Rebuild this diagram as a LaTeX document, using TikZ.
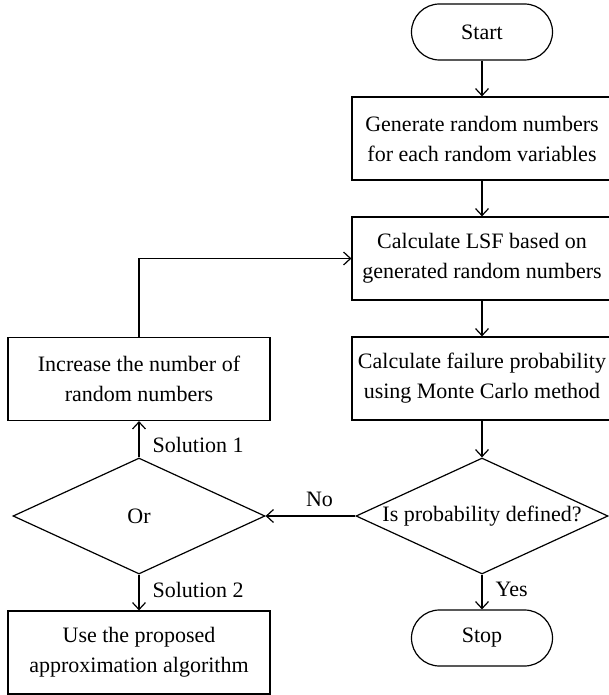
\documentclass[tikz,border=0pt]{standalone}
\usepackage{fontspec}
\setmainfont{Liberation Serif}
\usetikzlibrary{arrows.meta,shapes.geometric}
\begin{document}
\begin{tikzpicture}[x=0.5pt,y=-0.5pt,
  every node/.style={font=\fontsize{11}{15}\selectfont},
  box/.style={draw, line width=0.6pt, minimum width=130pt, minimum height=41.5pt, align=center, inner sep=0pt},
  lbox/.style={box, minimum width=131pt},
  pill/.style={draw, line width=0.6pt, rounded corners=14pt, minimum width=70.5pt, minimum height=28pt, inner sep=0pt},
  dia/.style={draw, line width=0.6pt, shape=diamond, aspect=2.17, minimum width=126pt, minimum height=58pt, inner sep=0pt},
  arr/.style={line width=0.6pt, -{Straight Barb[length=3.5pt,width=6.5pt]}},
  lab/.style={right, inner sep=0pt, xshift=6.5pt}
]
\useasboundingbox (0,0) rectangle (609,695);
\node[pill] (start) at (482,32) {Start};
\node[box] (b1) at (482,138.5) {Generate random numbers\\for each random variables};
\node[box] (b2) at (482,258.5) {Calculate LSF based on\\generated random numbers};
\node[box] (b3) at (482,378.5) {Calculate failure probability\\using Monte Carlo method};
\node[dia] (d1) at (482,516) {Is probability defined?};
\node[pill] (stop) at (482,638) {Stop};
\node[dia] (d2) at (139,516) {Or};
\node[lbox] (inc) at (139,379) {Increase the number of\\random numbers};
\node[lbox] (use) at (139,652.5) {Use the proposed\\approximation algorithm};

\draw[arr] (start) -- (b1);
\draw[arr] (b1) -- (b2);
\draw[arr] (b2) -- (b3);
\draw[arr] (b3) -- (d1);
\draw[arr] (d1) -- node[lab, yshift=1.5pt] {Yes} (stop);
\draw[arr] (d1) -- node[above, pos=0.4, yshift=1pt] {No} (d2);
\draw[arr] (d2) -- node[lab, yshift=-3pt] {Solution 1} (inc);
\draw[arr] (d2) -- node[lab, yshift=1.5pt] {Solution 2} (use);
\draw[arr] (inc.north) |- (b2.west);
\end{tikzpicture}
\end{document}
